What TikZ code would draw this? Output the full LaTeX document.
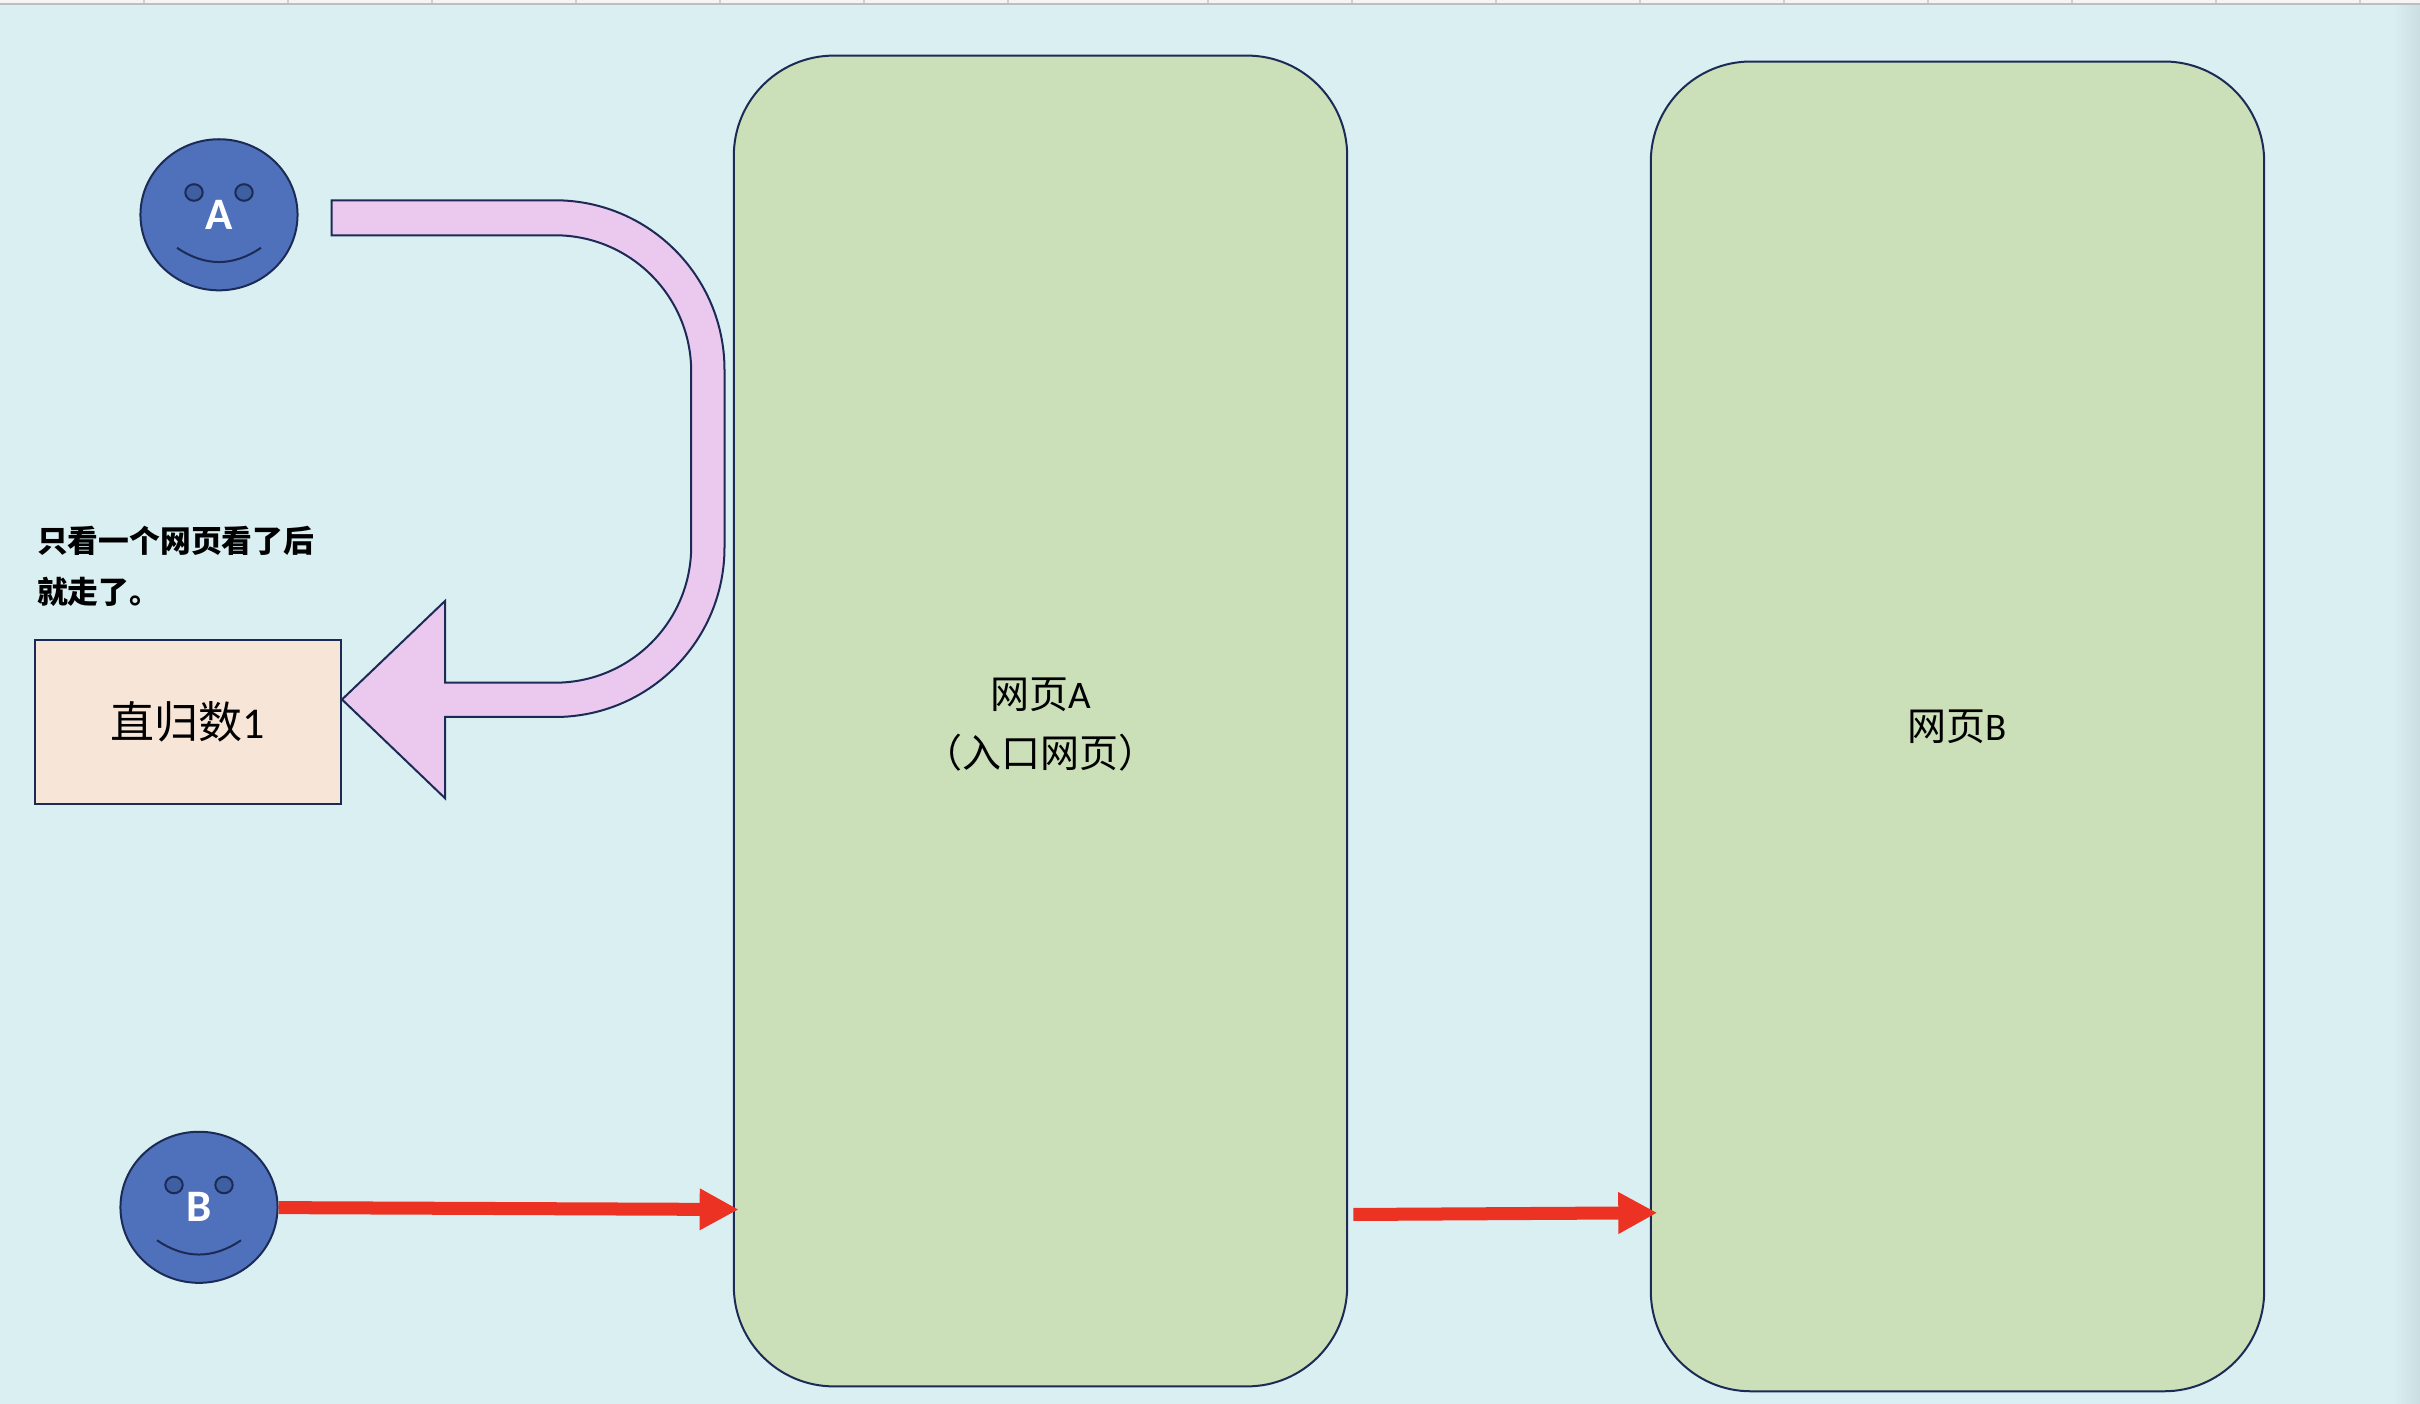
\documentclass[tikz,border=0pt]{standalone}
\usepackage{fontspec}
\usetikzlibrary{arrows.meta,shapes.geometric}
\setmainfont{Carlito}
\newfontfamily\zhfont{Noto Sans CJK SC}
\definecolor{bgcol}{HTML}{DAEFF2}
\definecolor{edgecol}{HTML}{1C2B55}
\definecolor{greencol}{HTML}{CBDFB8}
\definecolor{pinkcol}{HTML}{EBC8EE}
\definecolor{peachcol}{HTML}{F7E5D8}
\definecolor{bluecol}{HTML}{4F71BC}
\definecolor{eyecol}{HTML}{3F5FA3}
\definecolor{redcol}{HTML}{EC3323}
\definecolor{stripcol}{HTML}{BEBEBE}
\tikzset{
	outline/.style={draw=edgecol,line width=0.02cm},
	pagebox/.style={outline,fill=greencol,rectangle,rounded corners=1cm,inner sep=0pt,align=center,
		font=\fontsize{11.1pt}{16.5pt}\selectfont},
	facebox/.style={outline,fill=bluecol,ellipse,inner sep=0pt,minimum width=1.57cm,minimum height=1.51cm,
		text=white,font=\bfseries\fontsize{12.8pt}{14pt}\selectfont},
	countbox/.style={outline,fill=peachcol,rectangle,inner sep=0pt,minimum width=3.06cm,minimum height=1.635cm,
		font=\fontsize{12.5pt}{15pt}\selectfont},
	notetext/.style={inner sep=0pt,anchor=west,align=left,
		font=\zhfont\bfseries\fontsize{8.75pt}{14.7pt}\selectfont},
	redarrow/.style={draw=redcol,line width=0.13cm,-{Triangle[length=0.39cm,width=0.39cm]}}
}
\newcommand{\zh}[1]{{\zhfont #1}}
\newcommand{\sunk}[2]{\raisebox{#1}[0pt][0pt]{#2}}
\begin{document}
\begin{tikzpicture}[x=0.01cm,y=-0.01cm]
	\useasboundingbox (0,0) rectangle (2420,1404);
	%BACKGROUND
	\fill[bgcol] (0,0) rectangle (2420,1404);
	\shade[left color=bgcol,right color=bgcol!93!black] (2393,5) rectangle (2420,1404);
	\fill[white!96!black] (0,0) rectangle (2420,4);
	\foreach \tick in {144,288,432,576,720,864,1008,1208,1352,1496,1640,1784,1928,2072,2216,2360}
		\draw[stripcol!70,line width=0.012cm] (\tick,0) -- (\tick,4);
	\draw[stripcol,line width=0.015cm] (0,4.2) -- (2420,4.2);

	%PAGES
	\node[pagebox,minimum width=6.13cm,minimum height=13.3cm] (pageA) at (1040.5,721)
		{\sunk{-0.17cm}{\zh{网页}A}\\\sunk{-0.17cm}{\zh{（入口网页）}}};
	\node[pagebox,minimum width=6.13cm,minimum height=13.29cm] (pageB) at (1957.5,726.4)
		{\sunk{-0.143cm}{\zh{网页}B}};

	%FACES
	\foreach \nm/\x/\y in {A/219/214.8,B/199/1207.3}{
		\node[facebox] (face\nm) at (\x,\y) {\nm};
		\draw[outline,fill=eyecol] (\x-25,\y-22.3) ellipse [x radius=8.7,y radius=8.3];
		\draw[outline,fill=eyecol] (\x+25,\y-22.3) ellipse [x radius=8.7,y radius=8.3];
		\draw[outline] (\x-42,\y+33) .. controls (\x-14,\y+52) and (\x+14,\y+52) .. (\x+42,\y+33);
	}

	%COUNT BOX AND NOTE
	\node[countbox] (count) at (188,721.8) {\sunk{-0.165cm}{\zh{直归数}1}};
	\node[notetext] (note) at (36.5,566.5) {只看一个网页看了后\\就走了。};

	%BENT ARROW
	\draw[outline,fill=pinkcol] (331.6,200.3) -- (555,200.3) arc[start angle=-90,end angle=0,radius=169.5]
		-- (724.5,547.5) arc[start angle=0,end angle=90,radius=169.5]
		-- (445,717) -- (445,798.2) -- (342,699.5) -- (445,601) -- (445,682.7)
		-- (555,682.7) arc[start angle=90,end angle=0,radius=136.2]
		-- (691.2,371.5) arc[start angle=0,end angle=-90,radius=136.2]
		-- (331.6,235.3) -- cycle;

	%RED ARROWS
	\coordinate (tipA) at (738.7,1209.5);
	\coordinate (fromA) at (1353.3,1214.5);
	\coordinate (tipB) at (1657.3,1212.8);
	\draw[redarrow] (faceB) -- (tipA);
	\draw[redarrow] (fromA) -- (tipB);
\end{tikzpicture}
\end{document}
